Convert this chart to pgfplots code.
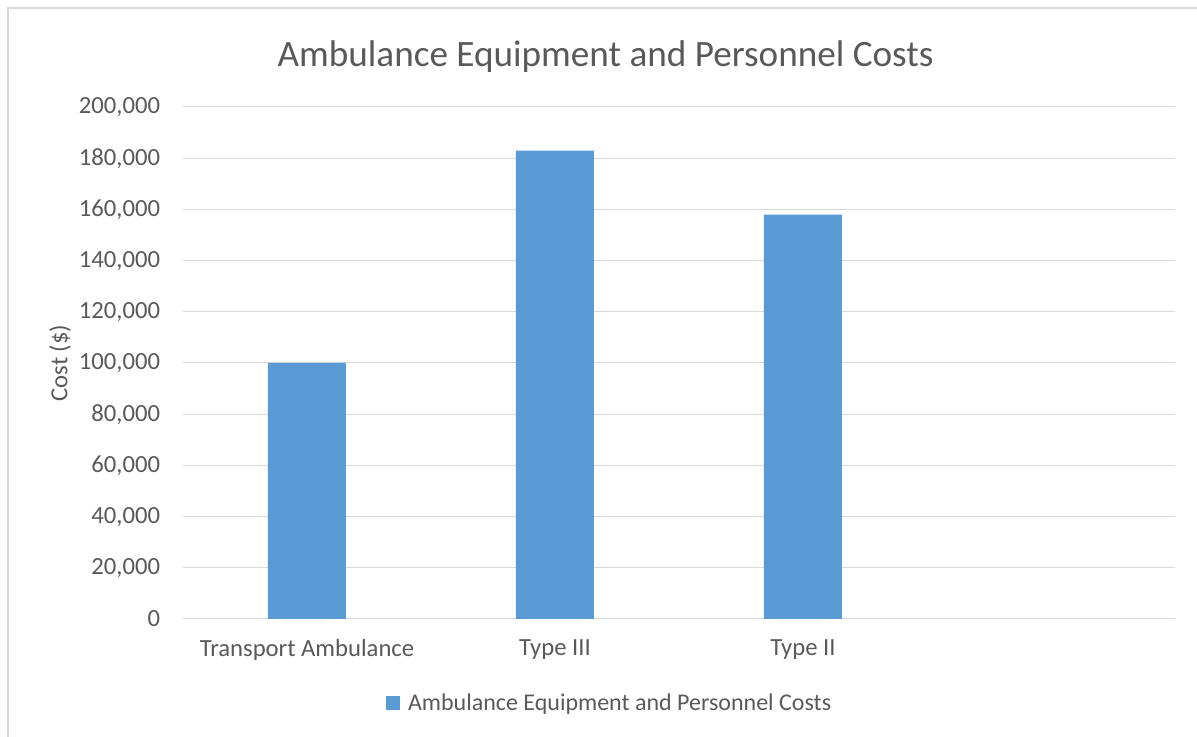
\documentclass[border=0pt]{standalone}
\usepackage{pgfplots}
\pgfplotsset{compat=1.18}
\usepackage{fontspec}
\setmainfont{Carlito}
\definecolor{barblue}{HTML}{5B9BD5}
\definecolor{gridgray}{HTML}{D9D9D9}
\definecolor{txt}{HTML}{595959}
\begin{document}
\begin{tikzpicture}
\useasboundingbox (0pt,0pt) rectangle (897.75pt,552.75pt);
\draw[gridgray, line width=1.2pt] (6pt,0pt) -- (6pt,546.75pt) -- (897.75pt,546.75pt);
\begin{axis}[
  at={(137.25pt,88.5pt)}, anchor=south west,
  scale only axis, width=744pt, height=384pt,
  xmin=-0.5, xmax=3.5, ymin=0, ymax=200000,
  xtick={0,1,2}, xticklabels={Transport Ambulance,Type III,Type II},
  ytick={0,20000,...,200000},
  scaled y ticks=false,
  /pgf/number format/.cd, fixed, 1000 sep={,}, assume math mode=true,
  /pgfplots/.cd,
  axis line style={draw=none},
  major tick length=0pt,
  ymajorgrids, major grid style={gridgray, line width=0.75pt},
  tick label style={font=\fontsize{18.5}{22}\selectfont, text=txt},
  yticklabel style={anchor=east, inner sep=0pt, xshift=-17pt},
  xticklabel style={anchor=north, inner sep=0pt, yshift=-15pt},
  ylabel={Cost (\$)},
  ylabel style={at={(axis description cs:-0.124,0.5)}, anchor=center, font=\fontsize{18.5}{22}\selectfont, text=txt},
  title={Ambulance Equipment and Personnel Costs},
  title style={at={(axis description cs:0.426,1.082)}, anchor=center, font=\fontsize{27.9}{33}\selectfont, text=txt},
  legend style={at={(axis description cs:0.4304,-0.164)}, anchor=center, draw=none, fill=none,
    font=\fontsize{18}{22}\selectfont, text=txt, inner sep=0pt},
  legend image code/.code={\fill[barblue] (0pt,-5.25pt) rectangle (10.5pt,5.25pt); \path (14.5pt,0pt);},
  clip=false,
]
\addplot[ybar, bar width=58.5pt, fill=barblue, draw=none] coordinates {(0,100000) (1,183000) (2,158000)};
\addlegendentry{Ambulance Equipment and Personnel Costs}
\end{axis}
\end{tikzpicture}
\end{document}
